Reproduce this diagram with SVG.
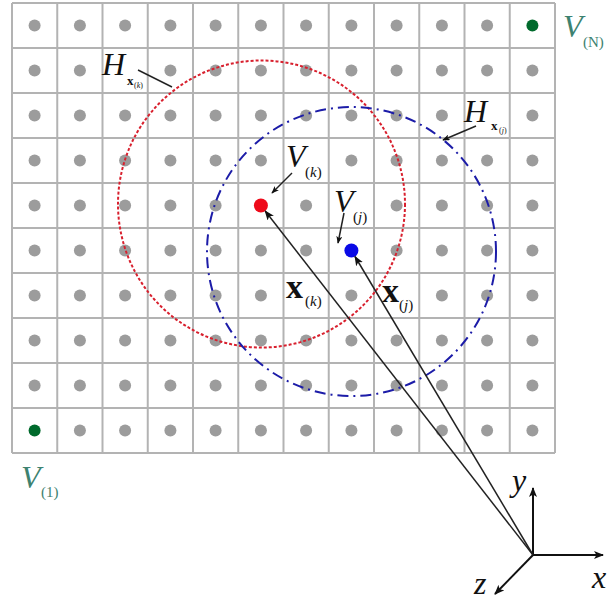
<svg xmlns="http://www.w3.org/2000/svg" width="609" height="602" viewBox="0 0 609 602">
<defs>
<style>
.grid line{stroke:#b3b3b3;stroke-width:2}
.dot{fill:#9c9c9c}
.it{font-family:"Liberation Serif",serif;font-style:italic}
.rm{font-family:"Liberation Serif",serif}
.bd{font-family:"Liberation Serif",serif;font-weight:bold}
.lbl{fill:#111}
.grn{fill:#3d8270}
.conn line{stroke:#222;stroke-width:1.5}
</style>
<marker id="ah" viewBox="0 0 10 8" refX="9" refY="4" markerWidth="10" markerHeight="8" markerUnits="userSpaceOnUse" orient="auto"><path d="M0,0 L10,4 L0,8 L2.5,4 z" fill="#111"/></marker>
<marker id="ahs" viewBox="0 0 10 8" refX="9" refY="4" markerWidth="8" markerHeight="6" markerUnits="userSpaceOnUse" orient="auto"><path d="M0,0 L10,4 L0,8 L2.5,4 z" fill="#111"/></marker>
</defs>
<rect width="609" height="602" fill="#fff"/>
<g id="grid" class="grid">
<line x1="12" y1="3" x2="12" y2="453"/><line x1="57.25" y1="3" x2="57.25" y2="453"/><line x1="102.5" y1="3" x2="102.5" y2="453"/><line x1="147.75" y1="3" x2="147.75" y2="453"/><line x1="193" y1="3" x2="193" y2="453"/><line x1="238.25" y1="3" x2="238.25" y2="453"/><line x1="283.5" y1="3" x2="283.5" y2="453"/><line x1="328.75" y1="3" x2="328.75" y2="453"/><line x1="374" y1="3" x2="374" y2="453"/><line x1="419.25" y1="3" x2="419.25" y2="453"/><line x1="464.5" y1="3" x2="464.5" y2="453"/><line x1="509.75" y1="3" x2="509.75" y2="453"/><line x1="555" y1="3" x2="555" y2="453"/>
<line x1="12" y1="3" x2="555" y2="3"/><line x1="12" y1="48" x2="555" y2="48"/><line x1="12" y1="93" x2="555" y2="93"/><line x1="12" y1="138" x2="555" y2="138"/><line x1="12" y1="183" x2="555" y2="183"/><line x1="12" y1="228" x2="555" y2="228"/><line x1="12" y1="273" x2="555" y2="273"/><line x1="12" y1="318" x2="555" y2="318"/><line x1="12" y1="363" x2="555" y2="363"/><line x1="12" y1="408" x2="555" y2="408"/><line x1="12" y1="453" x2="555" y2="453"/>
</g>
<g id="dots" class="dot">
<!-- row 0 -->
<circle cx="34.6" cy="25.5" r="6"/><circle cx="79.9" cy="25.5" r="6"/><circle cx="125.1" cy="25.5" r="6"/><circle cx="170.4" cy="25.5" r="6"/><circle cx="215.6" cy="25.5" r="6"/><circle cx="260.9" cy="25.5" r="6"/><circle cx="306.1" cy="25.5" r="6"/><circle cx="351.4" cy="25.5" r="6"/><circle cx="396.6" cy="25.5" r="6"/><circle cx="441.9" cy="25.5" r="6"/><circle cx="487.1" cy="25.5" r="6"/>
<!-- row 1 -->
<circle cx="34.6" cy="70.5" r="6"/><circle cx="79.9" cy="70.5" r="6"/><circle cx="170.4" cy="70.5" r="6"/><circle cx="215.6" cy="70.5" r="6"/><circle cx="260.9" cy="70.5" r="6"/><circle cx="306.1" cy="70.5" r="6"/><circle cx="351.4" cy="70.5" r="6"/><circle cx="396.6" cy="70.5" r="6"/><circle cx="441.9" cy="70.5" r="6"/><circle cx="487.1" cy="70.5" r="6"/><circle cx="532.4" cy="70.5" r="6"/>
<!-- row 2 -->
<circle cx="34.6" cy="115.5" r="6"/><circle cx="79.9" cy="115.5" r="6"/><circle cx="125.1" cy="115.5" r="6"/><circle cx="170.4" cy="115.5" r="6"/><circle cx="215.6" cy="115.5" r="6"/><circle cx="260.9" cy="115.5" r="6"/><circle cx="306.1" cy="115.5" r="6"/><circle cx="351.4" cy="115.5" r="6"/><circle cx="396.6" cy="115.5" r="6"/><circle cx="441.9" cy="115.5" r="6"/><circle cx="532.4" cy="115.5" r="6"/>
<!-- row 3 -->
<circle cx="34.6" cy="160.5" r="6"/><circle cx="79.9" cy="160.5" r="6"/><circle cx="125.1" cy="160.5" r="6"/><circle cx="170.4" cy="160.5" r="6"/><circle cx="215.6" cy="160.5" r="6"/><circle cx="260.9" cy="160.5" r="6"/><circle cx="351.4" cy="160.5" r="6"/><circle cx="396.6" cy="160.5" r="6"/><circle cx="441.9" cy="160.5" r="6"/><circle cx="487.1" cy="160.5" r="6"/><circle cx="532.4" cy="160.5" r="6"/>
<!-- row 4 -->
<circle cx="34.6" cy="205.5" r="6"/><circle cx="79.9" cy="205.5" r="6"/><circle cx="125.1" cy="205.5" r="6"/><circle cx="170.4" cy="205.5" r="6"/><circle cx="215.6" cy="205.5" r="6"/><circle cx="306.1" cy="205.5" r="6"/><circle cx="396.6" cy="205.5" r="6"/><circle cx="441.9" cy="205.5" r="6"/><circle cx="487.1" cy="205.5" r="6"/><circle cx="532.4" cy="205.5" r="6"/>
<!-- row 5 -->
<circle cx="34.6" cy="250.5" r="6"/><circle cx="79.9" cy="250.5" r="6"/><circle cx="125.1" cy="250.5" r="6"/><circle cx="170.4" cy="250.5" r="6"/><circle cx="215.6" cy="250.5" r="6"/><circle cx="260.9" cy="250.5" r="6"/><circle cx="306.1" cy="250.5" r="6"/><circle cx="396.6" cy="250.5" r="6"/><circle cx="441.9" cy="250.5" r="6"/><circle cx="487.1" cy="250.5" r="6"/><circle cx="532.4" cy="250.5" r="6"/>
<!-- row 6 -->
<circle cx="34.6" cy="295.5" r="6"/><circle cx="79.9" cy="295.5" r="6"/><circle cx="125.1" cy="295.5" r="6"/><circle cx="170.4" cy="295.5" r="6"/><circle cx="215.6" cy="295.5" r="6"/><circle cx="260.9" cy="295.5" r="6"/><circle cx="351.4" cy="295.5" r="6"/><circle cx="441.9" cy="295.5" r="6"/><circle cx="487.1" cy="295.5" r="6"/><circle cx="532.4" cy="295.5" r="6"/>
<!-- row 7 -->
<circle cx="34.6" cy="340.5" r="6"/><circle cx="79.9" cy="340.5" r="6"/><circle cx="125.1" cy="340.5" r="6"/><circle cx="170.4" cy="340.5" r="6"/><circle cx="215.6" cy="340.5" r="6"/><circle cx="260.9" cy="340.5" r="6"/><circle cx="306.1" cy="340.5" r="6"/><circle cx="351.4" cy="340.5" r="6"/><circle cx="396.6" cy="340.5" r="6"/><circle cx="441.9" cy="340.5" r="6"/><circle cx="487.1" cy="340.5" r="6"/><circle cx="532.4" cy="340.5" r="6"/>
<!-- row 8 -->
<circle cx="34.6" cy="385.5" r="6"/><circle cx="79.9" cy="385.5" r="6"/><circle cx="125.1" cy="385.5" r="6"/><circle cx="170.4" cy="385.5" r="6"/><circle cx="215.6" cy="385.5" r="6"/><circle cx="260.9" cy="385.5" r="6"/><circle cx="306.1" cy="385.5" r="6"/><circle cx="351.4" cy="385.5" r="6"/><circle cx="396.6" cy="385.5" r="6"/><circle cx="441.9" cy="385.5" r="6"/><circle cx="487.1" cy="385.5" r="6"/><circle cx="532.4" cy="385.5" r="6"/>
<!-- row 9 -->
<circle cx="79.9" cy="430.5" r="6"/><circle cx="125.1" cy="430.5" r="6"/><circle cx="170.4" cy="430.5" r="6"/><circle cx="215.6" cy="430.5" r="6"/><circle cx="260.9" cy="430.5" r="6"/><circle cx="306.1" cy="430.5" r="6"/><circle cx="351.4" cy="430.5" r="6"/><circle cx="396.6" cy="430.5" r="6"/><circle cx="441.9" cy="430.5" r="6"/><circle cx="487.1" cy="430.5" r="6"/><circle cx="532.4" cy="430.5" r="6"/>
</g>
<g id="Hk-circle"><circle cx="261.5" cy="204" r="143.5" fill="none" stroke="#d8202e" stroke-width="2" stroke-dasharray="3 2"/></g>
<g id="Hj-circle"><circle cx="351.5" cy="251.5" r="144.5" fill="none" stroke="#1c1ca8" stroke-width="2" stroke-dasharray="11 5 2 5"/></g>
<g id="V1-node"><circle cx="34.6" cy="430.5" r="6" fill="#006a2c"/><text x="21" y="488" class="it grn" font-size="32">V</text><text x="41" y="497" class="rm grn" font-size="15">(1)</text></g>
<g id="VN-node"><circle cx="532.4" cy="25.5" r="6" fill="#006a2c"/><text x="563" y="37" class="it grn" font-size="32">V</text><text x="583" y="47" class="rm grn" font-size="15">(N)</text></g>
<g id="Vk-node"><circle cx="260.9" cy="205.5" r="7" fill="#ee0a1a"/><text x="286" y="167" class="it lbl" font-size="32">V</text><text x="305" y="177" class="rm lbl" font-size="15">(<tspan class="it">k</tspan>)</text></g>
<g id="Vj-node"><circle cx="351.4" cy="250.5" r="7" fill="#0a0ae6"/><text x="334" y="212" class="it lbl" font-size="32">V</text><text x="353" y="222" class="rm lbl" font-size="15">(<tspan class="it">j</tspan>)</text></g>
<g id="Hk-label"><text x="102" y="75" class="it lbl" font-size="32">H</text><text x="127" y="85" class="bd lbl" font-size="13">x</text><text x="134" y="88" class="rm lbl" font-size="8">(<tspan class="it">k</tspan>)</text></g>
<g id="Hj-label"><text x="464" y="122" class="it lbl" font-size="32">H</text><text x="491" y="130" class="bd lbl" font-size="13">x</text><text x="499" y="133" class="rm lbl" font-size="8">(<tspan class="it">j</tspan>)</text></g>
<g id="xk-label"><text x="286" y="298" class="bd lbl" font-size="34">x</text><text x="305" y="306" class="rm lbl" font-size="15">(<tspan class="it">k</tspan>)</text></g>
<g id="xj-label"><text x="382" y="302" class="bd lbl" font-size="34">x</text><text x="399" y="310" class="rm lbl" font-size="15">(<tspan class="it">j</tspan>)</text></g>
<g id="axes">
<line x1="533" y1="555" x2="533" y2="488" stroke="#111" stroke-width="2" marker-end="url(#ah)"/>
<line x1="533" y1="555" x2="603" y2="555" stroke="#111" stroke-width="2" marker-end="url(#ah)"/>
<line x1="533" y1="555" x2="495" y2="594" stroke="#111" stroke-width="2" marker-end="url(#ah)"/>
<text x="512" y="491" class="it lbl" font-size="32">y</text>
<text x="592" y="588" class="it lbl" font-size="32">x</text>
<text x="474" y="594" class="it lbl" font-size="32">z</text>
</g>
<g id="connectors" class="conn">
<line x1="533" y1="555" x2="265.2" y2="211" marker-end="url(#ah)"/>
<line x1="533" y1="555" x2="355" y2="256.5" marker-end="url(#ah)"/>
<line x1="292" y1="173" x2="272" y2="193" marker-end="url(#ahs)"/>
<line x1="344" y1="213" x2="338" y2="243" marker-end="url(#ahs)"/>
<line x1="138" y1="70" x2="172" y2="87"/>
<line x1="476" y1="126" x2="443" y2="140" marker-end="url(#ahs)"/>
</g>
</svg>
